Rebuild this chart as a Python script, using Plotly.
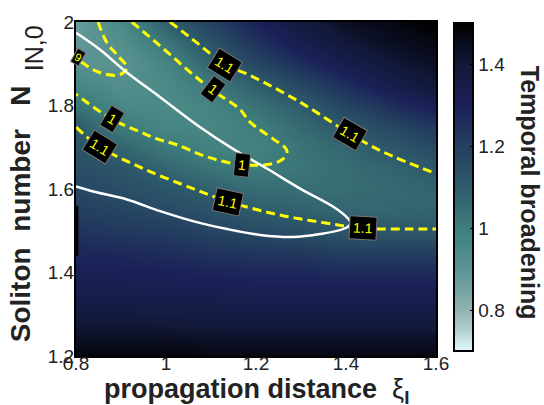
import plotly.graph_objects as go

# ---------------- data ----------------
xi_grid = [0.8, 0.9, 1.0, 1.1, 1.2, 1.3, 1.4, 1.5, 1.6]
n_grid = [1.20, 1.25, 1.30, 1.35, 1.40, 1.45, 1.50, 1.55, 1.60,
          1.65, 1.70, 1.75, 1.80, 1.85, 1.90, 1.95, 2.00]

broadening = [
    [1.48, 1.48, 1.48, 1.47, 1.47, 1.47, 1.47, 1.47, 1.47],
    [1.43, 1.43, 1.43, 1.42, 1.42, 1.42, 1.42, 1.42, 1.42],
    [1.38, 1.38, 1.37, 1.37, 1.36, 1.36, 1.36, 1.36, 1.36],
    [1.34, 1.34, 1.33, 1.33, 1.32, 1.32, 1.32, 1.32, 1.32],
    [1.31, 1.31, 1.30, 1.29, 1.28, 1.28, 1.27, 1.27, 1.27],
    [1.28, 1.27, 1.26, 1.24, 1.23, 1.22, 1.20, 1.20, 1.20],
    [1.24, 1.22, 1.21, 1.18, 1.16, 1.14, 1.12, 1.11, 1.11],
    [1.20, 1.18, 1.16, 1.13, 1.10, 1.08, 1.07, 1.07, 1.075],
    [1.17, 1.15, 1.12, 1.085, 1.05, 1.045, 1.05, 1.06, 1.075],
    [1.15, 1.12, 1.07, 1.025, 1.005, 1.025, 1.05, 1.075, 1.11],
    [1.13, 1.07, 1.015, 0.98, 0.985, 1.03, 1.07, 1.115, 1.16],
    [1.10, 1.01, 0.965, 0.965, 1.0, 1.06, 1.115, 1.17, 1.23],
    [1.03, 0.96, 0.945, 0.975, 1.035, 1.095, 1.18, 1.25, 1.32],
    [0.97, 0.925, 0.95, 1.01, 1.09, 1.17, 1.26, 1.34, 1.40],
    [0.91, 0.895, 0.97, 1.075, 1.17, 1.26, 1.34, 1.40, 1.44],
    [0.885, 0.92, 1.02, 1.13, 1.24, 1.33, 1.40, 1.44, 1.47],
    [0.87, 0.95, 1.09, 1.19, 1.30, 1.38, 1.44, 1.47, 1.50],
]

# yellow dashed contour lines (levels 0.9 / 1 / 1.1)
loop_a_x = [0.849, 0.869, 0.893, 0.913, 0.898, 0.869, 0.838, 0.813, 0.800]
loop_a_y = [2.000, 1.950, 1.919, 1.891, 1.874, 1.874, 1.886, 1.903, 1.910]

line_b_x = [0.924, 0.987, 1.047, 1.104, 1.164, 1.187, 1.238, 1.264, 1.269, 1.260,
            1.238, 1.169, 1.091, 1.024, 0.980, 0.942, 0.880, 0.800]
line_b_y = [2.000, 1.943, 1.886, 1.836, 1.791, 1.760, 1.720, 1.700, 1.690, 1.672,
            1.661, 1.658, 1.677, 1.706, 1.720, 1.737, 1.767, 1.827]

line_c_x = [1.009, 1.069, 1.131, 1.187, 1.298, 1.409, 1.482, 1.600]
line_c_y = [2.000, 1.950, 1.898, 1.872, 1.808, 1.732, 1.689, 1.637]

line_d_x = [0.800, 0.853, 0.949, 1.060, 1.138, 1.247, 1.358, 1.438, 1.542, 1.600]
line_d_y = [1.748, 1.701, 1.649, 1.601, 1.570, 1.539, 1.518, 1.506, 1.504, 1.504]

# white solid curve
white_x = [0.800, 0.853, 0.913, 0.987, 1.076, 1.149, 1.224, 1.298, 1.371, 1.404,
           1.411, 1.398, 1.342, 1.282, 1.209, 1.136, 1.060, 0.987, 0.913, 0.838, 0.800]
white_y = [1.974, 1.934, 1.879, 1.820, 1.748, 1.696, 1.649, 1.601, 1.558, 1.530,
           1.518, 1.506, 1.492, 1.485, 1.490, 1.504, 1.523, 1.547, 1.575, 1.594, 1.606]

# clipped label edge on the left border
clip_x = [0.802, 0.802]
clip_y = [1.44, 1.56]

# contour labels
label_x = [1.131, 1.104, 0.880, 0.853, 1.169, 1.138, 1.409, 1.438, 0.804]
label_y = [1.898, 1.839, 1.767, 1.701, 1.658, 1.570, 1.732, 1.506, 1.915]
label_text = ["1.1", "1", "1", "1.1", "1", "1.1", "1.1", "1.1", "9"]
label_angle = [32, 37, 31, 32, 6, 12, 30, 3, 30]

x_ticks = [0.8, 1.0, 1.2, 1.4, 1.6]
x_ticktext = ["0.8", "1", "1.2", "1.4", "1.6"]
y_ticks = [1.2, 1.4, 1.6, 1.8, 2.0]
y_ticktext = ["1.2", "1.4", "1.6", "1.8", "2"]
cb_ticks = [0.8, 1.0, 1.2, 1.4]
cb_ticktext = ["0.8", "1", "1.2", "1.4"]

# ---------------- figure ----------------
colorscale = [
    [0.000, "#e6fafa"],
    [0.0625, "#b2cfce"],
    [0.125, "#8fb3b2"],
    [0.1875, "#74a3a2"],
    [0.25, "#5a9392"],
    [0.3125, "#4b8987"],
    [0.375, "#3f7e7c"],
    [0.5, "#2e5b6b"],
    [0.625, "#243f60"],
    [0.75, "#1b2158"],
    [0.875, "#121838"],
    [1.0, "#000000"],
]

fig = go.Figure()
fig.add_trace(go.Heatmap(
    x=xi_grid, y=n_grid, z=broadening, zsmooth="best",
    zmin=0.7, zmax=1.5, colorscale=colorscale,
    colorbar=dict(
        x=1.05, xanchor="left", xpad=0, y=0.997, yanchor="top", ypad=0,
        len=0.982, lenmode="fraction", thickness=19,
        outlinecolor="black", outlinewidth=2,
        tickvals=cb_ticks, ticktext=cb_ticktext,
        ticks="inside", ticklen=4, tickcolor="black",
        tickfont=dict(family="Liberation Sans, Arial", size=19, color="#222"),
    ),
    hoverinfo="skip",
))

yellow = dict(color="#ffff00", width=3, dash="9px,5px")
for xs, ys in [(loop_a_x, loop_a_y), (line_b_x, line_b_y),
               (line_c_x, line_c_y), (line_d_x, line_d_y)]:
    fig.add_trace(go.Scatter(x=xs, y=ys, mode="lines", line=dict(shape="spline", **yellow),
                             showlegend=False, hoverinfo="skip"))

fig.add_trace(go.Scatter(x=white_x, y=white_y, mode="lines",
                         line=dict(color="white", width=2.5, shape="spline"),
                         showlegend=False, hoverinfo="skip"))

fig.add_trace(go.Scatter(x=clip_x, y=clip_y, mode="lines",
                         line=dict(color="black", width=3),
                         showlegend=False, hoverinfo="skip"))

annotations = []
for lx, ly, lt, la in zip(label_x, label_y, label_text, label_angle):
    small = lt == "9"
    annotations.append(dict(
        x=lx, y=ly, xref="x", yref="y", text=lt, showarrow=False,
        textangle=la, bgcolor="black", bordercolor="#777", borderwidth=1,
        borderpad=1 if small else 3,
        font=dict(family="Liberation Sans, Arial", size=11 if small else 14, color="#ffff00"),
    ))

annotations.append(dict(
    x=0.5, y=-0.104, xref="paper", yref="paper", showarrow=False,
    xanchor="center", yanchor="middle",
    text="<b>propagation distance</b>&nbsp;&nbsp;ξ<sub><b>I</b></sub>",
    font=dict(family="Liberation Sans, Arial", size=27, color="#222"),
))
annotations.append(dict(
    x=-0.155, y=0.425, xref="paper", yref="paper", showarrow=False,
    xanchor="center", yanchor="middle", textangle=-90,
    text="<b>Soliton&nbsp;&nbsp;number&nbsp;&nbsp;&nbsp;N</b>",
    font=dict(family="Liberation Sans, Arial", size=28, color="#222"),
))
annotations.append(dict(
    x=-0.118, y=0.92, xref="paper", yref="paper", showarrow=False,
    xanchor="center", yanchor="middle", textangle=-90,
    text="IN,0", font=dict(family="Liberation Sans, Arial", size=25, color="#222"),
))
annotations.append(dict(
    x=1.26, y=0.49, xref="paper", yref="paper", showarrow=False,
    xanchor="center", yanchor="middle", textangle=90,
    text="<b>Temporal broadening</b>",
    font=dict(family="Liberation Sans, Arial", size=25, color="#222"),
))

axis_common = dict(showline=True, linecolor="black", linewidth=2, mirror=True,
                   ticks="", showgrid=False, zeroline=False,
                   tickfont=dict(family="Liberation Sans, Arial", size=19, color="#222"))

fig.update_layout(
    width=544, height=405,
    margin=dict(l=76, r=108, t=19, b=49),
    paper_bgcolor="white", plot_bgcolor="white",
    showlegend=False,
    annotations=annotations,
    xaxis=dict(range=[0.8, 1.6], tickvals=x_ticks, ticktext=x_ticktext,
               ticklabelstandoff=-11, **axis_common),
    yaxis=dict(range=[1.2, 2.0], tickvals=y_ticks, ticktext=y_ticktext,
               ticklabelstandoff=-4, **axis_common),
)

fig.write_html("out.html", config={"displayModeBar": False},
               post_script="document.body.style.margin='0';document.body.style.overflow='hidden';")
